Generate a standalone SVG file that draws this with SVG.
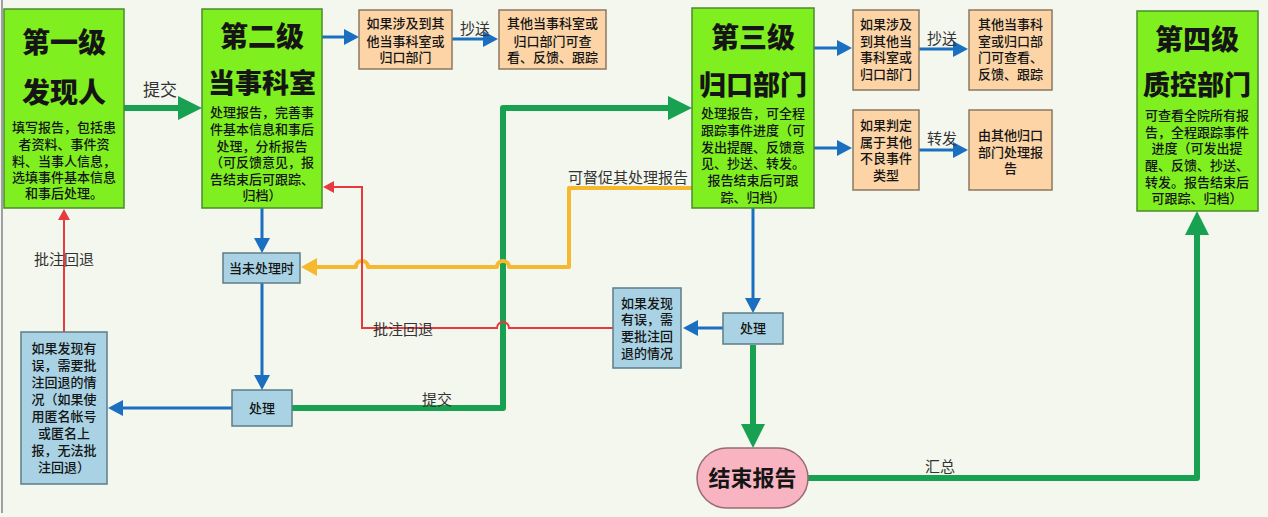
<svg xmlns="http://www.w3.org/2000/svg" width="1268" height="517" viewBox="0 0 1268 517">
<defs>
<style>
text{font-family:"Noto Sans CJK SC","Liberation Sans",sans-serif;fill:#151515;text-anchor:middle}
.lvl{fill:#80ef20;stroke:#4b8a30;stroke-width:1.5}
.peach{fill:#fcd4a6;stroke:#8c7862;stroke-width:1.5}
.lb{fill:#a9d3e4;stroke:#5f7c88;stroke-width:1.5}
.end{fill:#f8b4c0;stroke:#9a6c72;stroke-width:1.5}
.t1{font-size:28px;font-weight:900}
.t2{font-size:27px;font-weight:900}
.body{font-size:13px;font-weight:500}
.sm{font-size:13px;font-weight:500}
.lab{font-size:15px;fill:#333}
.cb{fill:none;stroke:#1a6fc0;stroke-width:3}
.cg{fill:none;stroke:#17a150;stroke-width:6;stroke-linejoin:round}
.cy{fill:none;stroke:#f6b82c;stroke-width:4;stroke-linejoin:round}
.cr{fill:none;stroke:#e83a3c;stroke-width:2}
</style>
<marker id="mb" markerUnits="userSpaceOnUse" viewBox="0 0 15 16" markerWidth="15" markerHeight="16" refX="1" refY="8" orient="auto"><path d="M0,0 L15,8 L0,16 z" fill="#1a6fc0"/></marker>
<marker id="mg" markerUnits="userSpaceOnUse" viewBox="0 0 24 24" markerWidth="24" markerHeight="24" refX="1" refY="12" orient="auto"><path d="M0,0 L24,12 L0,24 z" fill="#17a150"/></marker>
<marker id="my" markerUnits="userSpaceOnUse" viewBox="0 0 16 18" markerWidth="16" markerHeight="18" refX="1" refY="9" orient="auto"><path d="M0,0 L16,9 L0,18 z" fill="#f6b82c"/></marker>
<marker id="mr" markerUnits="userSpaceOnUse" viewBox="0 0 11 12" markerWidth="11" markerHeight="12" refX="1" refY="6" orient="auto"><path d="M0,0 L11,6 L0,12 z" fill="#e83a3c"/></marker>
</defs>
<rect x="0" y="0" width="1268" height="517" fill="#f4f7ee"/>
<line x1="2" y1="0" x2="2" y2="513" stroke="#a0a0a0" stroke-width="2"/>

<g id="connectors">
<path class="cg" d="M124,108 H179" marker-end="url(#mg)"/>
<path class="cb" d="M322,37 H345" marker-end="url(#mb)"/>
<path class="cb" d="M452,39 H484" marker-end="url(#mb)"/>
<path class="cb" d="M814,48 H838" marker-end="url(#mb)"/>
<path class="cb" d="M919,49 H954" marker-end="url(#mb)"/>
<path class="cb" d="M814,148 H838" marker-end="url(#mb)"/>
<path class="cb" d="M919,150 H954" marker-end="url(#mb)"/>
<path class="cb" d="M262,208 V239" marker-end="url(#mb)"/>
<path class="cb" d="M262,283 V376" marker-end="url(#mb)"/>
<path class="cb" d="M232,408 H122" marker-end="url(#mb)"/>
<path class="cr" d="M64,332 V219" marker-end="url(#mr)"/>
<path class="cg" d="M292,408 H503 V108 H669" marker-end="url(#mg)"/>
<path class="cy" d="M692,188 H569 V267 H509 a6,6 0 0 0 -12,0 H368 a6,6 0 0 0 -12,0 H316" marker-end="url(#my)"/>
<path class="cr" d="M613,328 H509 a6,6 0 0 0 -12,0 H362 V187 H333" marker-end="url(#mr)"/>
<path class="cb" d="M753,208 V299" marker-end="url(#mb)"/>
<path class="cb" d="M723,328 H697" marker-end="url(#mb)"/>
<path class="cg" d="M753,345 V425" marker-end="url(#mg)"/>
<path class="cg" d="M808,478 H1197 V234" marker-end="url(#mg)"/>
<text class="lab" x="160" y="96" style="font-size:17px">提交</text>
<text class="lab" x="475" y="34">抄送</text>
<text class="lab" x="942" y="44">抄送</text>
<text class="lab" x="942" y="144">转发</text>
<text class="lab" x="628" y="183">可督促其处理报告</text>
<text class="lab" x="403" y="335">批注回退</text>
<text class="lab" x="64" y="265">批注回退</text>
<text class="lab" x="437" y="405">提交</text>
<text class="lab" x="940" y="472">汇总</text>
</g>

<g id="level1">
<rect class="lvl" x="4" y="9" width="120" height="199"/>
<text class="t1" x="64" y="53">第一级</text>
<text class="t1" x="64" y="103">发现人</text>
<text class="body" x="64"><tspan x="64" y="132">填写报告，包括患</tspan><tspan x="64" y="149">者资料、事件资</tspan><tspan x="64" y="166">料、当事人信息，</tspan><tspan x="64" y="182">选填事件基本信息</tspan><tspan x="64" y="198">和事后处理。</tspan></text>
</g>

<g id="level2">
<rect class="lvl" x="202" y="9" width="120" height="199"/>
<text class="t1" x="262" y="47">第二级</text>
<text class="t2" x="262" y="93">当事科室</text>
<text class="body" x="262"><tspan x="262" y="117">处理报告，完善事</tspan><tspan x="262" y="134">件基本信息和事后</tspan><tspan x="262" y="151">处理，分析报告</tspan><tspan x="262" y="167">（可反馈意见，报</tspan><tspan x="262" y="184">告结束后可跟踪、</tspan><tspan x="262" y="200">归档）</tspan></text>
</g>

<g id="copy1">
<rect class="peach" x="359" y="10" width="93" height="59"/>
<text class="sm"><tspan x="405.5" y="28">如果涉及到其</tspan><tspan x="405.5" y="46">他当事科室或</tspan><tspan x="405.5" y="62">归口部门</tspan></text>
</g>
<g id="copy1b">
<rect class="peach" x="499" y="10" width="107" height="59"/>
<text class="sm"><tspan x="552.5" y="28">其他当事科室或</tspan><tspan x="552.5" y="46">归口部门可查</tspan><tspan x="552.5" y="62">看、反馈、跟踪</tspan></text>
</g>

<g id="level3">
<rect class="lvl" x="692" y="8" width="122" height="200"/>
<text class="t1" x="753" y="48">第三级</text>
<text class="t2" x="753" y="95">归口部门</text>
<text class="body"><tspan x="753" y="118">处理报告，可全程</tspan><tspan x="753" y="135">跟踪事件进度（可</tspan><tspan x="753" y="152">发出提醒、反馈意</tspan><tspan x="753" y="168">见、抄送、转发。</tspan><tspan x="753" y="185">报告结束后可跟</tspan><tspan x="753" y="202">踪、归档）</tspan></text>
</g>

<g id="copy2">
<rect class="peach" x="853" y="10" width="66" height="80"/>
<text class="sm"><tspan x="886" y="29">如果涉及</tspan><tspan x="886" y="46">到其他当</tspan><tspan x="886" y="62">事科室或</tspan><tspan x="886" y="79">归口部门</tspan></text>
</g>
<g id="copy2b">
<rect class="peach" x="969" y="10" width="83" height="80"/>
<text class="sm"><tspan x="1010.5" y="29">其他当事科</tspan><tspan x="1010.5" y="46">室或归口部</tspan><tspan x="1010.5" y="62">门可查看、</tspan><tspan x="1010.5" y="79">反馈、跟踪</tspan></text>
</g>
<g id="forward">
<rect class="peach" x="853" y="110" width="66" height="80"/>
<text class="sm"><tspan x="886" y="130">如果判定</tspan><tspan x="886" y="147">属于其他</tspan><tspan x="886" y="163">不良事件</tspan><tspan x="886" y="180">类型</tspan></text>
</g>
<g id="forwardb">
<rect class="peach" x="969" y="110" width="83" height="80"/>
<text class="sm"><tspan x="1010.5" y="140">由其他归口</tspan><tspan x="1010.5" y="157">部门处理报</tspan><tspan x="1010.5" y="173">告</tspan></text>
</g>

<g id="level4">
<rect class="lvl" x="1137" y="11" width="121" height="200"/>
<text class="t1" x="1197" y="50">第四级</text>
<text class="t2" x="1197" y="95">质控部门</text>
<text class="body"><tspan x="1197" y="120">可查看全院所有报</tspan><tspan x="1197" y="137">告，全程跟踪事件</tspan><tspan x="1197" y="153">进度（可发出提</tspan><tspan x="1197" y="170">醒、反馈、抄送、</tspan><tspan x="1197" y="187">转发。报告结束后</tspan><tspan x="1197" y="203">可跟踪、归档）</tspan></text>
</g>

<g id="pending">
<rect class="lb" x="223" y="253" width="77" height="30"/>
<text class="sm" x="261.5" y="273">当未处理时</text>
</g>
<g id="process2">
<rect class="lb" x="232" y="390" width="60" height="36"/>
<text class="sm" x="262" y="413">处理</text>
</g>
<g id="reject1">
<rect class="lb" x="21" y="332" width="86" height="152"/>
<text class="sm"><tspan x="64" y="353">如果发现有</tspan><tspan x="64" y="370">误，需要批</tspan><tspan x="64" y="387">注回退的情</tspan><tspan x="64" y="404">况（如果使</tspan><tspan x="64" y="421">用匿名帐号</tspan><tspan x="64" y="438">或匿名上</tspan><tspan x="64" y="455">报，无法批</tspan><tspan x="64" y="472">注回退）</tspan></text>
</g>
<g id="reject2">
<rect class="lb" x="613" y="288" width="68" height="80"/>
<text class="sm"><tspan x="647" y="308">如果发现</tspan><tspan x="647" y="324">有误，需</tspan><tspan x="647" y="341">要批注回</tspan><tspan x="647" y="358">退的情况</tspan></text>
</g>
<g id="process3">
<rect class="lb" x="723" y="313" width="60" height="31"/>
<text class="sm" x="753" y="333">处理</text>
</g>
<g id="endreport">
<rect class="end" x="697" y="448" width="111" height="60" rx="30" ry="30"/>
<text x="752.5" y="486" style="font-size:22px;font-weight:700">结束报告</text>
</g>
</svg>
